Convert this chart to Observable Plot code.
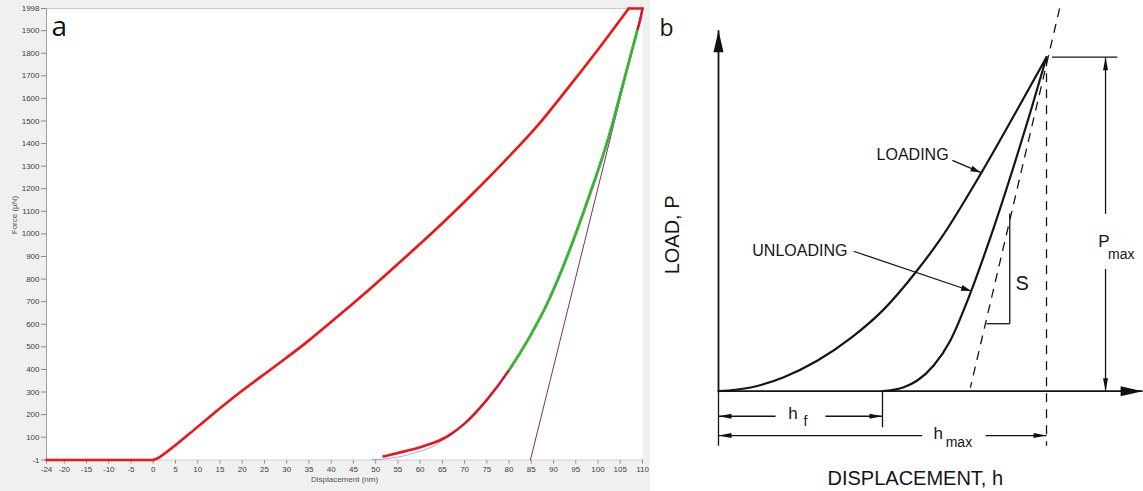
<!DOCTYPE html>
<html><head><meta charset="utf-8">
<script src="https://cdn.jsdelivr.net/npm/d3@7"></script>
<script src="https://cdn.jsdelivr.net/npm/@observablehq/plot@0.6"></script>
<style>
html,body{margin:0;padding:0;background:#fff;}
#wrap{display:flex;width:1143px;height:491px;overflow:hidden;}
#a{width:650px;height:491px;background:#f0f0f0;flex:none;}
#b{width:493px;height:491px;background:#fff;flex:none;}
svg{display:block;}
</style></head><body><div id="wrap"><div id="a"></div><div id="b"></div></div>
<script>
// ---------- Panel a: measured load–displacement data ----------
const xTicks = [-24, -20, -15, -10, -5, 0, 5, 10, 15, 20, 25, 30, 35, 40, 45, 50, 55, 60, 65, 70, 75, 80, 85, 90, 95, 100, 105, 110];
const yTicks = [-1, 100, 200, 300, 400, 500, 600, 700, 800, 900, 1000, 1100, 1200, 1300, 1400, 1500, 1600, 1700, 1800, 1900, 1998];

// approach (flat), loading rise, hold at peak
const approachDisp  = [-24, 0];
const approachForce = [-1, -1];
const loadingDisp  = [0, 0.5, 1.6, 3.8, 8.3, 12.1, 19.6, 27.1, 34.6, 42.1, 49.6, 56.3, 63.8, 71.3, 78.8, 86.3, 93.8, 101.3, 106.9];
const loadingForce = [-1, 2, 14, 46, 118, 181, 300, 410, 522, 645, 772, 890, 1025, 1168, 1318, 1477, 1660, 1850, 1998];
const holdDisp  = [106.9, 110];
const holdForce = [1998, 1998];

const unloadDisp  = [51.8, 55, 60, 63, 65, 67, 70, 75, 80.1, 84.5, 88.9, 92.7, 97.7, 102.6, 105.7, 108.8, 109.5, 110];
const unloadForce = [15, 30, 55, 75, 92, 115, 160, 265, 400, 540, 705, 882, 1150, 1442, 1670, 1899, 1950, 1998];

const fitRange = [80.1, 108.8];

const fitDisp  = [49.3, 52, 55, 60, 63, 65, 67, 70, 75, 80.1, 84.5, 88.9, 92.7, 97.7, 102.6, 105.7, 108.8, 110];
const fitForce = [0, 4, 12, 38, 60, 85, 112, 160, 265, 400, 540, 705, 882, 1150, 1442, 1670, 1899, 1998];

const tangentDisp  = [84.8, 110];
const tangentForce = [-1, 1998];

const zip = (xs, ys) => xs.map((x, i) => ({x, y: ys[i]}));
const unloading = zip(unloadDisp, unloadForce);
const fitted = unloading.filter(d => d.x >= fitRange[0] && d.x <= fitRange[1]);

const red = "#f01414";
const fontA = "'Liberation Sans', Arial, sans-serif";
const chartA = Plot.plot({
  width: 650, height: 491,
  marginLeft: 46, marginRight: 8, marginTop: 8, marginBottom: 31.5,
  style: {background: "#f0f0f0", fontFamily: fontA, fontSize: "8px", color: "#404040"},
  x: {domain: [-24, 110], label: null},
  y: {domain: [-1, 1998], label: null},
  marks: [
    Plot.frame({fill: "white", stroke: null}),
    Plot.ruleY([1998], {stroke: "#c8c8c8"}),
    Plot.axisX({ticks: xTicks, tickFormat: d => String(d), tickSize: 4, tickPadding: 2, stroke: "#8a8a8a", label: null}),
    Plot.axisY({ticks: yTicks, tickFormat: d => String(d), tickSize: 5, tickPadding: 2, stroke: "#8a8a8a", label: null}),
    Plot.ruleX([-24], {stroke: "#a0a0a0"}),
    Plot.ruleY([-1], {stroke: "#d0d0d0"}),
    Plot.line(zip(tangentDisp, tangentForce), {x: "x", y: "y", stroke: "#7b2d7b", strokeWidth: 1}),
    Plot.line(zip(approachDisp, approachForce), {x: "x", y: "y", stroke: red, strokeWidth: 2.6}),
    Plot.line(zip(loadingDisp, loadingForce), {x: "x", y: "y", stroke: red, strokeWidth: 2.6, curve: "monotone-x"}),
    Plot.line(zip(holdDisp, holdForce), {x: "x", y: "y", stroke: red, strokeWidth: 2.6}),
    Plot.line(unloading, {x: "x", y: "y", stroke: red, strokeWidth: 2.6, curve: "monotone-x"}),
    Plot.line(fitted, {x: "x", y: "y", stroke: "#28e028", strokeWidth: 2.6, curve: "monotone-x"}),
    Plot.line(zip(fitDisp, fitForce), {x: "x", y: "y", stroke: "#3030c0", strokeWidth: 0.7, strokeOpacity: 0.6, curve: "monotone-x"}),
    Plot.text(["Force (µN)"], {frameAnchor: "left", dx: -32, rotate: -90, fontSize: 8, fill: "#505050"}),
    Plot.text(["Displacement (nm)"], {frameAnchor: "bottom", dy: 21.5, fontSize: 8, fill: "#505050"}),
    Plot.text(["a"], {frameAnchor: "top-left", dx: 5, dy: 27, lineAnchor: "bottom", textAnchor: "start", fontSize: 28, fill: "#111", fontFamily: "'Open Sans', sans-serif"})
  ]
});
document.getElementById("a").appendChild(chartA);

// ---------- Panel b: schematic (units: h / h_max, P / P_max) ----------
const bLoadingH = [0, 0.098, 0.199, 0.301, 0.402, 0.504, 0.606, 0.677, 0.799, 0.912, 1];
const bLoadingP = [0, 0.011, 0.042, 0.091, 0.158, 0.245, 0.362, 0.456, 0.650, 0.845, 1];

const bUnloadH = [0.499, 0.565, 0.606, 0.656, 0.707, 0.763, 0.819, 0.911, 0.951, 1];
const bUnloadP = [0, 0.012, 0.032, 0.077, 0.152, 0.281, 0.432, 0.708, 0.836, 1];

const solidSegments = [
  {x1: 1.017, y1: 1, x2: 1.216, y2: 1},        // P_max reference line
  {x1: 0, y1: 0, x2: 0, y2: -0.163},           // h origin tick
  {x1: 0.5, y1: 0, x2: 0.5, y2: -0.108},       // h_f tick
  {x1: 0.888, y1: 0.532, x2: 0.888, y2: 0.202},// slope triangle
  {x1: 0.817, y1: 0.202, x2: 0.888, y2: 0.202}
];
const dashedSegments = [
  {x1: 1, y1: 1, x2: 1, y2: -0.163},
  {x1: 1.04, y1: 1.146, x2: 0.768, y2: 0.011}
];
const arrows = [
  {x1: 0, y1: 0, x2: 0, y2: 1.081, kind: "axis"},
  {x1: 0, y1: 0, x2: 1.293, y2: 0, kind: "axis"},
  {x1: 1.18, y1: 0.531, x2: 1.18, y2: 1, kind: "dim"},
  {x1: 1.18, y1: 0.366, x2: 1.18, y2: 0, kind: "dim"},
  {x1: 0.174, y1: -0.075, x2: 0, y2: -0.075, kind: "dim"},
  {x1: 0.326, y1: -0.075, x2: 0.5, y2: -0.075, kind: "dim"},
  {x1: 0.621, y1: -0.133, x2: 0, y2: -0.133, kind: "dim"},
  {x1: 0.814, y1: -0.133, x2: 1, y2: -0.133, kind: "dim"},
  {x1: 0.713, y1: 0.691, x2: 0.799, y2: 0.655, kind: "pointer"},
  {x1: 0.412, y1: 0.419, x2: 0.770, y2: 0.300, kind: "pointer"}
];
const calloutLabels = [
  {text: "LOADING", x: 0.482, y: 0.693},
  {text: "UNLOADING", x: 0.103, y: 0.406}
];
const symbolLabels = [
  {text: "h", x: 0.227, y: -0.082},
  {text: "h", x: 0.67, y: -0.1425},
  {text: "P", x: 1.175, y: 0.431}
];
const subscriptLabels = [
  {text: "f", x: 0.265, y: -0.103},
  {text: "max", x: 0.733, y: -0.1675},
  {text: "max", x: 1.228, y: 0.397}
];
const slopeLabel = [{text: "S", x: 0.926, y: 0.3015}];
const xTitleB = [{text: "DISPLACEMENT, h", x: 0.6, y: -0.282}];
const yTitleB = [{text: "LOAD, P", x: -0.14, y: 0.468}];

const xB = {domain: [0, 1], range: [68, 396]};
const yB = {domain: [0, 1], range: [390.7, 56.7]};
const sx = Plot.scale({x: xB}), sy = Plot.scale({y: yB});
const headSize = {axis: [22, 10], dim: [13, 5], pointer: [10, 6]};
function headSymbol(angle, len, wid) {
  const dx = Math.cos(angle), dy = Math.sin(angle);
  return {draw(ctx) {
    const bx = -dx * len, by = -dy * len, px = -dy * wid / 2, py = dx * wid / 2;
    ctx.moveTo(0, 0);
    ctx.lineTo(bx + px, by + py);
    ctx.lineTo(bx - px, by - py);
    ctx.closePath();
  }};
}
const headMarks = arrows.map(d => {
  const ang = Math.atan2(sy.apply(d.y2) - sy.apply(d.y1), sx.apply(d.x2) - sx.apply(d.x1));
  const [len, wid] = headSize[d.kind];
  return Plot.dot([d], {x: "x2", y: "y2", r: 1, symbol: headSymbol(ang, len, wid), fill: "#111", stroke: "none"});
});

const fontB = "'Liberation Sans', Arial, Helvetica, sans-serif";
const ink = "#151515";
const chartB = Plot.plot({
  width: 493, height: 491, margin: 0,
  x: {...xB, axis: null},
  y: {...yB, axis: null},
  style: {background: "white", fontFamily: fontB},
  marks: [
    Plot.link(dashedSegments, {x1: "x1", y1: "y1", x2: "x2", y2: "y2", stroke: ink, strokeWidth: 1.3, strokeDasharray: "9,7"}),
    Plot.link(solidSegments, {x1: "x1", y1: "y1", x2: "x2", y2: "y2", stroke: ink, strokeWidth: 1.3}),
    Plot.link(arrows, {x1: "x1", y1: "y1", x2: "x2", y2: "y2", stroke: ink, strokeWidth: d => d.kind === "axis" ? 1.8 : 1.3}),
    ...headMarks,
    Plot.line(zip(bLoadingH, bLoadingP), {x: "x", y: "y", stroke: ink, strokeWidth: 2.2, curve: "monotone-x"}),
    Plot.line(zip(bUnloadH, bUnloadP), {x: "x", y: "y", stroke: ink, strokeWidth: 2.2, curve: "monotone-x"}),
    Plot.text(calloutLabels, {x: "x", y: "y", text: "text", textAnchor: "start", lineAnchor: "bottom", fontSize: 16, fill: ink}),
    Plot.text(symbolLabels, {x: "x", y: "y", text: "text", lineAnchor: "bottom", fontSize: 17, fill: ink}),
    Plot.text(subscriptLabels, {x: "x", y: "y", text: "text", lineAnchor: "bottom", fontSize: 14, fill: ink}),
    Plot.text(slopeLabel, {x: "x", y: "y", text: "text", lineAnchor: "bottom", fontSize: 20, fill: ink}),
    Plot.text(xTitleB, {x: "x", y: "y", text: "text", lineAnchor: "bottom", fontSize: 20, fill: ink}),
    Plot.text(yTitleB, {x: "x", y: "y", text: "text", rotate: -90, fontSize: 20, fill: ink}),
    Plot.text(["b"], {frameAnchor: "top-left", dx: 9, dy: 35, lineAnchor: "bottom", textAnchor: "start", fontSize: 23, fill: "#111", fontFamily: "'Open Sans', sans-serif"})
  ]
});
document.getElementById("b").appendChild(chartB);
</script>
</body></html>
